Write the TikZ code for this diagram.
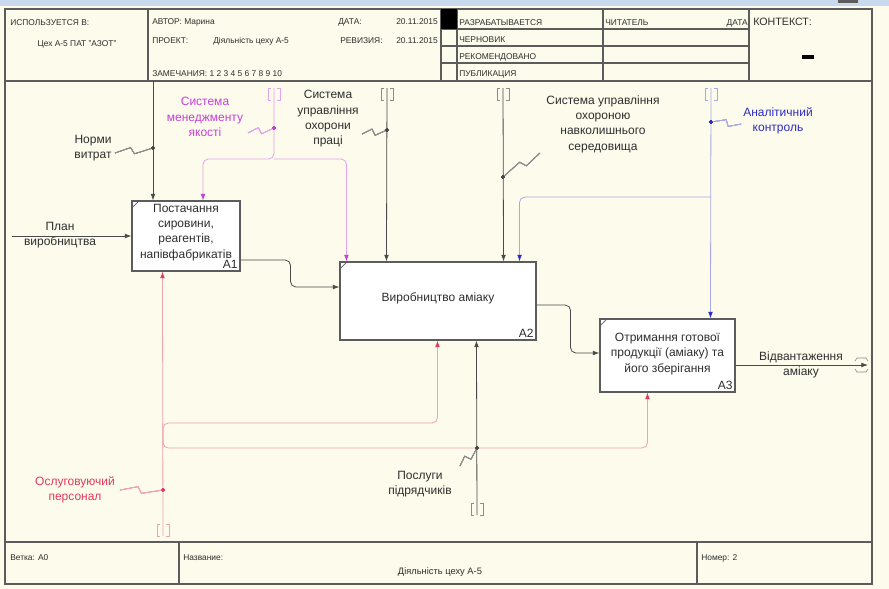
\documentclass[tikz,border=0pt]{standalone}
\usepackage{fontspec}
\setmainfont{Liberation Sans}
\usetikzlibrary{arrows.meta,positioning,calc}
\definecolor{paper}{HTML}{FCFBEC}
\definecolor{titlebar}{HTML}{C9D9EE}
\definecolor{frameline}{HTML}{5C5C5C}
\definecolor{ink}{HTML}{2E2E2E}
\definecolor{wire}{HTML}{4A4A4A}
\definecolor{squig}{HTML}{8C8C8C}
\definecolor{quality}{HTML}{C63FD8}
\definecolor{qualitywire}{HTML}{E4A3EC}
\definecolor{analyt}{HTML}{2D2DC4}
\definecolor{analytwire}{HTML}{A9A9E4}
\definecolor{staff}{HTML}{E43A5C}
\definecolor{staffwire}{HTML}{F0A4AE}

% squiggle from a label to its arrow, and the [ ] tunnel brackets
\newcommand\zig[3][squig]{\draw[#1,line width=0.5pt] (#2) -- ($(#2)!0.42!(#3)!2.5pt!90:(#3)$) -- ($(#2)!0.5!(#3)!2.5pt!-90:(#3)$) -- (#3);}
\newcommand\tunnelmark[2][squig]{\draw[#1,line width=0.5pt] ($(#2)+(-3,-6)$) -- ++(-3,0) -- ++(0,12) -- ++(3,0) ($(#2)+(3,-6)$) -- ++(3,0) -- ++(0,12) -- ++(-3,0);}

\begin{document}
\begin{tikzpicture}[x=0.75pt, y=-0.75pt, font=\fontsize{9}{11.5}\selectfont, text=ink,
    box/.style={draw=frameline, fill=white, line width=0.8pt, inner sep=2pt, align=center},
    boxnum/.style={anchor=south east, inner sep=2pt},
    lbl/.style={align=center, inner sep=0pt},
    hdr/.style={anchor=base west, inner sep=0pt, font=\fontsize{6.3}{7.5}\selectfont},
    grid/.style={draw=frameline, line width=0.8pt},
    flow/.style={draw=wire, line width=0.6pt, rounded corners=4pt, -{Latex[length=5pt,width=3.6pt]}},
    qflow/.style={flow, draw=qualitywire, -{Latex[length=5pt,width=3.6pt,color=quality]}},
    aflow/.style={flow, draw=analytwire, -{Latex[length=5pt,width=3.6pt,color=analyt]}},
    sflow/.style={flow, draw=staffwire, -{Latex[length=5pt,width=3.6pt,color=staff]}}]

  \useasboundingbox (0,0) rectangle (889,589);
  \fill[paper] (0,0) rectangle (889,589);
  \fill[titlebar] (0,0) rectangle (889,6);
  \fill[frameline] (838,0) rectangle (858,3);

  % frame, header and footer
  \draw[grid, line width=1pt] (5,9) rectangle (872,584);
  \draw[grid] (5,81) -- (872,81) (5,542) -- (872,542);
  \draw[grid] (148,9) -- (148,81) (441,9) -- (441,81) (457,9) -- (457,81)
    (603,9) -- (603,81) (749,9) -- (749,81);
  \foreach \y in {29,46,63} \draw[grid] (441,\y) -- (749,\y);
  \fill[black] (441,9) rectangle (457,29);
  \draw[grid] (179,542) -- (179,584) (697,542) -- (697,584);

  \node[hdr] (usedin) at (10,25) {ИСПОЛЬЗУЕТСЯ В:};
  \node[hdr, anchor=base] (usedval) at (77,46) {Цех А-5 ПАТ "АЗОТ"};
  \node[hdr] (author) at (152,24) {АВТОР: Марина};
  \node[hdr] (date) at (338,24) {ДАТА:};
  \node[hdr, anchor=base east] (dateval) at (438,24) {20.11.2015};
  \node[hdr] (project) at (152,43) {ПРОЕКТ:};
  \node[hdr] (projval) at (213,43) {Діяльність цеху А-5};
  \node[hdr] (rev) at (340,43) {РЕВИЗИЯ:};
  \node[hdr, anchor=base east] (revval) at (438,43) {20.11.2015};
  \node[hdr] (notes) at (152,76) {ЗАМЕЧАНИЯ: 1 2 3 4 5 6 7 8 9 10};
  \foreach \t/\y in {РАЗРАБАТЫВАЕТСЯ/25, ЧЕРНОВИК/42, РЕКОМЕНДОВАНО/59, ПУБЛИКАЦИЯ/76}
    \node[hdr] (st\y) at (459,\y) {\t};
  \node[hdr] (reader) at (605,25) {ЧИТАТЕЛЬ};
  \node[hdr, anchor=base east] (readdate) at (748,25) {ДАТА};
  \node[hdr, font=\fontsize{8}{9}\selectfont] (context) at (753,26) {КОНТЕКСТ:};
  \fill[black] (802,55) rectangle (814,59);
  \node[hdr] (node) at (10,560) {Ветка: А0};
  \node[hdr] (title) at (183,560) {Название:};
  \node[hdr, anchor=base, font=\fontsize{7}{8}\selectfont] (titleval) at (440,574) {Діяльність цеху А-5};
  \node[hdr] (number) at (701,560) {Номер: 2};

  % activities
  \node[box, minimum width=81pt, minimum height=52.5pt] (A1) at (186,236)
    {Постачання\\сировини,\\реагентів,\\напівфабрикатів\\[-4pt]};
  \node[box, minimum width=147pt, minimum height=58.5pt] (A2) at (438,301) {Виробництво аміаку\\[-5pt]};
  \node[box, minimum width=101.25pt, minimum height=54.75pt] (A3) at (667.5,355.5)
    {Отримання готової\\продукції (аміаку) та\\його зберігання\\[-7pt]};
  \node[boxnum] (a1num) at (A1.south east) {A1};
  \node[boxnum] (a2num) at (A2.south east) {A2};
  \node[boxnum] (a3num) at (A3.south east) {A3};
  \foreach \b in {A1,A2,A3}
    \draw[frameline, line width=0.5pt] ($(\b.north west)+(0,8)$) -- ++(8,-8);

  % labels
  \node[lbl] (planlbl) at (60,235) {План\\виробництва};
  \node[lbl] (normlbl) at (93,148) {Норми\\витрат};
  \node[lbl, text=quality] (qlbl) at (205,117) {Система\\менеджменту\\якості};
  \node[lbl] (ohslbl) at (328,119) {Система\\управління\\охорони\\праці};
  \node[lbl] (envlbl) at (603,124) {Система управління\\охороною\\навколишнього\\середовища};
  \node[lbl, text=analyt] (aclbl) at (778,121) {Аналітичний\\контроль};
  \node[lbl, text=staff] (stafflbl) at (75,490) {Ослуговуючий\\персонал};
  \node[lbl] (sublbl) at (420,484) {Послуги\\підрядчиків};
  \node[lbl] (shiplbl) at (801,365) {Відвантаження\\аміаку};

  % arrow ends, branch points and dots
  \coordinate (planin) at (12,236);
  \coordinate (normtop) at (153,81);
  \coordinate (normdot) at (153,148);
  \coordinate (normzig) at (115,153);
  \coordinate (qtun) at (274,94);
  \coordinate (qsplit) at (274,159);
  \coordinate (qdot) at (274,128);
  \coordinate (qzig) at (248,133);
  \coordinate (ohstun) at (387,94);
  \coordinate (ohsdot) at (387,130);
  \coordinate (ohszig) at (362,134);
  \coordinate (envtun) at (503,94);
  \coordinate (envdot) at (503,177);
  \coordinate (envzig) at (540,153);
  \coordinate (actun) at (711,94);
  \coordinate (acsplit) at (711,197);
  \coordinate (acdot) at (711,122);
  \coordinate (aczig) at (741,124);
  \coordinate (stafftun) at (163,530);
  \coordinate (staffa) at (163,423);
  \coordinate (staffb) at (163,448);
  \coordinate (staffdot) at (163,490);
  \coordinate (staffzig) at (120,490);
  \coordinate (subtun) at (477,509);
  \coordinate (subdot) at (477,448);
  \coordinate (subzig) at (460,466);
  \coordinate (shipend) at (868,365);

  % inputs and outputs
  \draw[flow] (planin) -- (A1.west);
  \draw[flow] ($(A1.east)+(0,24)$) -- ++(50,0) |- ($(A2.west)+(0,-14)$);
  \draw[flow] ($(A2.east)+(0,4)$) -- ++(34,0) |- ($(A3.west)+(0,-2.5)$);
  \draw[flow] ($(A3.east)+(0,9.5)$) -- (shipend);
  \draw[squig, line width=0.5pt] ($(shipend)+(-13,-4)$) -- ++(2,-3) -- ++(9,0) -- ++(2,3)
    ($(shipend)+(-13,4)$) -- ++(2,3) -- ++(9,0) -- ++(2,-3);

  % controls
  \draw[flow] (normtop) -- (normtop |- A1.north);
  \draw[qflow] ($(qtun)+(0,-6)$) -- (qsplit) -| ($(A1.north)+(17,0)$);
  \draw[qflow] (qsplit) -| ($(A2.north west)+(7,0)$);
  \draw[flow] ($(ohstun)+(0,-6)$) -- ($(A2.north west)+(47,0)$);
  \draw[flow] ($(envtun)+(0,-6)$) -- ($(A2.north east)+(-33,0)$);
  \draw[aflow] ($(actun)+(0,-6)$) -- ($(A3.north west)+(111,0)$);
  \draw[aflow] (acsplit) -| ($(A2.north east)+(-17,0)$);

  % mechanisms
  \draw[sflow] ($(stafftun)+(0,6)$) -- ($(A1.south west)+(31,0)$);
  \draw[sflow] (staffb) -- (staffa) -| ($(A2.south west)+(98,0)$);
  \draw[sflow] (staffa) -- (staffb) -| ($(A3.south west)+(48,0)$);
  \draw[flow] ($(subtun)+(0,6)$) -- ($(A2.south west)+(137,0)$);

  \foreach \t/\c in {qtun/qualitywire, ohstun/squig, envtun/squig, actun/analytwire, stafftun/staffwire, subtun/squig}
    \tunnelmark[\c]{\t}
  \foreach \z/\d/\c in {normzig/normdot/squig, qzig/qdot/qualitywire, ohszig/ohsdot/squig, envzig/envdot/squig,
      aczig/acdot/analytwire, staffzig/staffdot/staffwire, subzig/subdot/squig}
    \zig[\c]{\z}{\d}
  \foreach \d/\c in {normdot/wire, qdot/quality, ohsdot/wire, envdot/wire, acdot/analyt, staffdot/staff, subdot/wire}
    \fill[\c] (\d) circle[radius=1.3pt];
\end{tikzpicture}
\end{document}
